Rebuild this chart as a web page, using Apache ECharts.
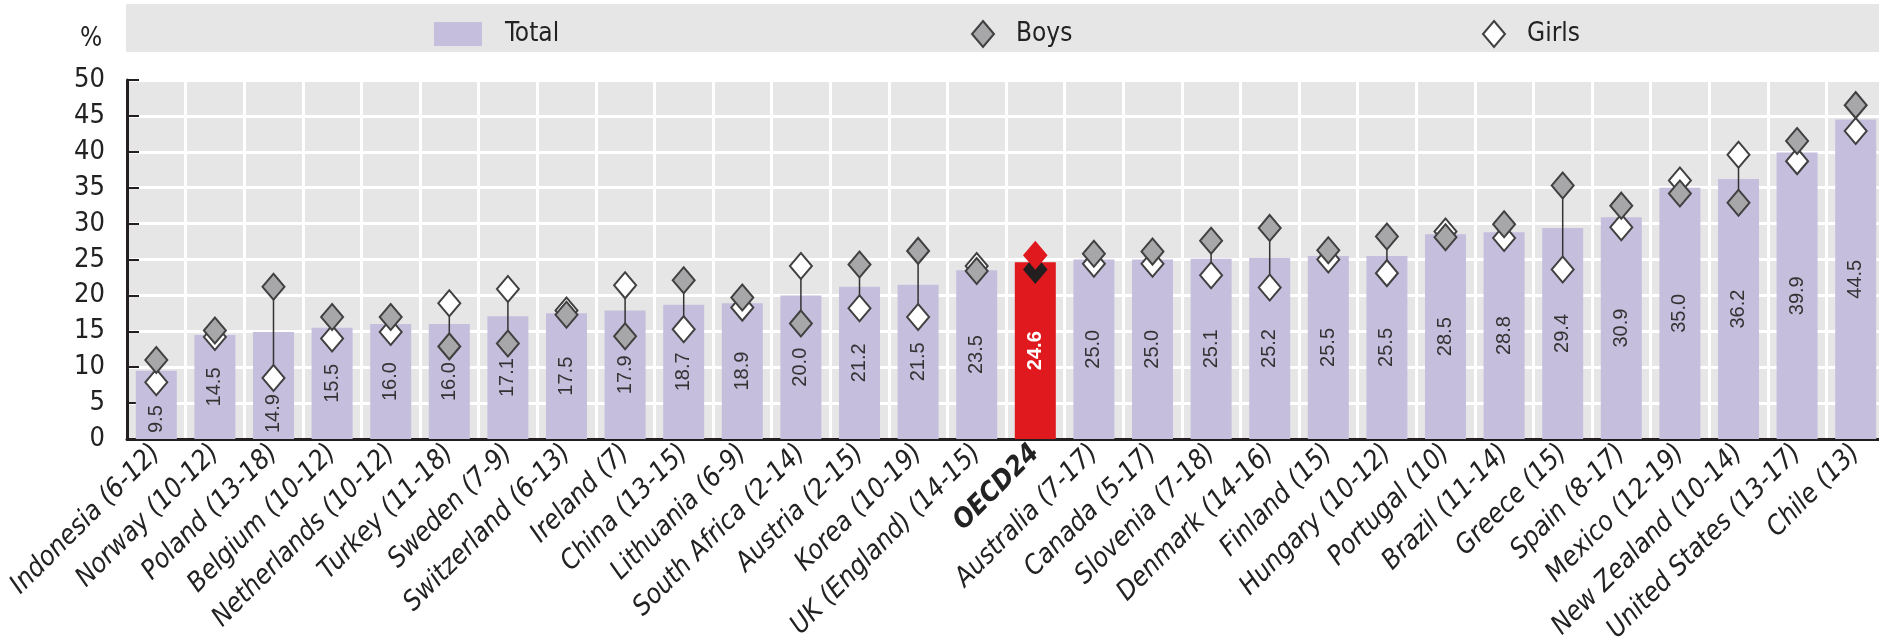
<!DOCTYPE html>
<html>
<head>
<meta charset="utf-8">
<script src="https://cdn.jsdelivr.net/npm/echarts@6/dist/echarts.min.js"></script>
<style>
  html, body { margin: 0; padding: 0; background: #fff; }
  #chart { width: 1879px; height: 644px; }
</style>
</head>
<body>
<div id="chart"></div>
<script>
var categories = ['Indonesia (6-12)', 'Norway (10-12)', 'Poland (13-18)', 'Belgium (10-12)', 'Netherlands (10-12)',
  'Turkey (11-18)', 'Sweden (7-9)', 'Switzerland (6-13)', 'Ireland (7)', 'China (13-15)', 'Lithuania (6-9)',
  'South Africa (2-14)', 'Austria (2-15)', 'Korea (10-19)', 'UK (England) (14-15)', 'OECD24', 'Australia (7-17)',
  'Canada (5-17)', 'Slovenia (7-18)', 'Denmark (14-16)', 'Finland (15)', 'Hungary (10-12)', 'Portugal (10)',
  'Brazil (11-14)', 'Greece (15)', 'Spain (8-17)', 'Mexico (12-19)', 'New Zealand (10-14)', 'United States (13-17)',
  'Chile (13)'];
var total = [9.5, 14.5, 14.9, 15.5, 16.0, 16.0, 17.1, 17.5, 17.9, 18.7, 18.9, 20.0, 21.2, 21.5, 23.5, 24.6, 25.0,
  25.0, 25.1, 25.2, 25.5, 25.5, 28.5, 28.8, 29.4, 30.9, 35.0, 36.2, 39.9, 44.5];
var boys = [11.0, 15.1, 21.2, 17.0, 17.0, 12.9, 13.3, 17.3, 14.3, 22.1, 19.7, 16.1, 24.3, 26.2, 23.4, 25.6, 25.8,
  26.1, 27.6, 29.4, 26.3, 28.2, 28.1, 29.9, 35.3, 32.5, 34.2, 32.9, 41.5, 46.5];
var girls = [7.9, 14.2, 8.5, 14.0, 14.9, 18.9, 20.9, 17.9, 21.4, 15.3, 18.3, 24.1, 18.2, 17.0, 24.1, 23.6, 24.4,
  24.4, 22.8, 21.1, 25.0, 23.1, 28.9, 28.0, 23.6, 29.5, 36.0, 39.6, 38.7, 42.9];
var yTicks = [0, 5, 10, 15, 20, 25, 30, 35, 40, 45, 50];

var oecd = 'OECD24';
var narrow = "'Liberation Sans Narrow', 'DejaVu Sans Condensed', 'Liberation Sans', sans-serif";
var lavender = '#c6bedd';
var red = '#e0191f';

var myChart = echarts.init(document.getElementById('chart'));

// value labels sit mid-bar, unless a diamond would cover them: then at the bottom
function labelFor(i) {
    var mid = total[i] / 2;
    var low = Math.min(boys[i], girls[i]);
    var lab = {};
    if (Math.abs(low - mid) < 4.2) {
        lab.position = 'insideBottom';
        lab.align = 'left';
        lab.verticalAlign = 'middle';
        lab.distance = 6;
    }
    if (categories[i] === oecd) {
        lab.color = '#fff';
        lab.fontWeight = 'bold';
    }
    return lab;
}

var totalData = total.map(function (v, i) {
    var item = { value: v, label: labelFor(i) };
    if (categories[i] === oecd) {
        item.itemStyle = { color: red };
    }
    return item;
});
var boysData = boys.map(function (v, i) {
    if (categories[i] === oecd) {
        return { value: v, itemStyle: { color: red, borderColor: red } };
    }
    return v;
});
var girlsData = girls.map(function (v, i) {
    if (categories[i] === oecd) {
        return { value: v, itemStyle: { color: '#231f20', borderColor: '#231f20' } };
    }
    return v;
});
var rangeData = boys.map(function (b, i) {
    return [i, b, girls[i]];
});

var option = {
    animation: false,
    textStyle: { fontFamily: narrow },
    graphic: [{
        type: 'rect',
        left: 126, top: 4,
        shape: { width: 1753, height: 48 },
        style: { fill: '#e6e6e6' },
        z: -10
    }, {
        type: 'text',
        left: 80, top: 26,
        style: { text: '%', font: '26px ' + narrow, fill: '#222' }
    }],
    legend: [{
        data: ['Total'],
        left: 429, top: 16,
        icon: 'rect',
        itemWidth: 48, itemHeight: 24,
        textStyle: { fontSize: 26, color: '#222', padding: [0, 0, 0, 18] }
    }, {
        data: ['Boys'],
        left: 966, top: 15,
        icon: 'diamond',
        itemWidth: 22, itemHeight: 26,
        textStyle: { fontSize: 26, color: '#222', padding: [0, 0, 0, 17] }
    }, {
        data: ['Girls'],
        left: 1477, top: 15,
        icon: 'diamond',
        itemWidth: 22, itemHeight: 26,
        textStyle: { fontSize: 26, color: '#222', padding: [0, 0, 0, 17] }
    }],
    grid: {
        left: 127, top: 80, width: 1758, height: 359,
        outerBoundsMode: 'none',
        containLabel: false,
        show: true, backgroundColor: '#e6e6e6', borderWidth: 0
    },
    xAxis: {
        type: 'category',
        data: categories,
        axisLine: { lineStyle: { color: '#231f20', width: 3 } },
        axisTick: { inside: true, length: 12, lineStyle: { color: '#231f20', width: 2 } },
        splitLine: { show: true, lineStyle: { color: '#fff', width: 3 } },
        axisLabel: {
            interval: 0,
            rotate: 45,
            margin: 10,
            fontSize: 27,
            fontStyle: 'italic',
            color: '#222',
            formatter: function (v) {
                return v === oecd ? '{b|' + v + '}' : v;
            },
            rich: {
                b: { fontSize: 27, fontWeight: 'bold', fontStyle: 'italic', color: '#222' }
            }
        }
    },
    yAxis: {
        type: 'value',
        min: yTicks[0],
        max: yTicks[yTicks.length - 1],
        interval: 5,
        axisLine: { show: true, lineStyle: { color: '#231f20', width: 3 } },
        axisTick: { show: true, inside: true, length: 12, lineStyle: { color: '#231f20', width: 2 } },
        splitLine: { show: true, lineStyle: { color: '#fff', width: 3 } },
        axisLabel: { fontSize: 27, color: '#222', margin: 22 }
    },
    series: [{
        name: 'Total',
        type: 'bar',
        data: totalData,
        barWidth: '70%',
        itemStyle: { color: lavender },
        label: {
            show: true,
            position: 'inside',
            rotate: 90,
            fontFamily: "'Liberation Sans', Arial, sans-serif",
            fontSize: 20,
            color: '#333',
            formatter: function (p) { return p.value.toFixed(1); }
        },
        z: 2
    }, {
        name: 'range',
        type: 'custom',
        data: rangeData,
        renderItem: function (params, api) {
            var a = api.coord([api.value(0), api.value(1)]);
            var b = api.coord([api.value(0), api.value(2)]);
            return {
                type: 'line',
                shape: { x1: a[0], y1: a[1], x2: b[0], y2: b[1] },
                style: { stroke: '#333', lineWidth: 1.5 }
            };
        },
        z: 3
    }, {
        name: 'Girls',
        type: 'scatter',
        data: girlsData,
        symbol: 'diamond',
        symbolSize: [22, 26],
        itemStyle: { color: '#fff', borderColor: '#404040', borderWidth: 2, opacity: 1 },
        z: 4
    }, {
        name: 'Boys',
        type: 'scatter',
        data: boysData,
        symbol: 'diamond',
        symbolSize: [22, 26],
        itemStyle: { color: '#a7a7a9', borderColor: '#404040', borderWidth: 2, opacity: 1 },
        z: 5
    }]
};

myChart.setOption(option);
</script>
</body>
</html>
